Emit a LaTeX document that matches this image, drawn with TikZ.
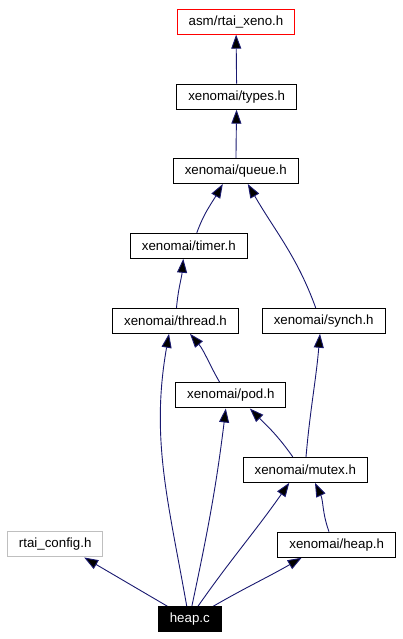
\documentclass[tikz,border=0pt]{standalone}
\usepackage{fontspec}
\setmainfont{Liberation Sans}
\usetikzlibrary{arrows.meta}

\definecolor{edgeblue}{HTML}{191970}
\definecolor{extgray}{HTML}{BFBFBF}
\pgfdeclarelayer{background}
\pgfsetlayers{background,main}

\begin{document}
\begin{tikzpicture}[
  x=1pt, y=1pt,
  >={Triangle[length=14pt,width=10pt]},
  file/.style={draw=black, line width=1pt, fill=white, minimum height=25pt,
    inner xsep=11.5pt, inner ysep=0pt, font=\fontsize{13.3}{16}\selectfont},
  dep/.style={->, draw=edgeblue, line width=0.9pt}
]
  \useasboundingbox (0,0) rectangle (402,639);

  \node[file, draw=red] (asm) at (236,617.3) {asm/rtai\_xeno.h};
  \node[file] (types) at (236.7,542.3) {xenomai/types.h};
  \node[file] (queue) at (235.8,468) {xenomai/queue.h};
  \node[file] (timer) at (188.8,393.2) {xenomai/timer.h};
  \node[file] (thread) at (175.5,318.2) {xenomai/thread.h};
  \node[file] (synch) at (323.7,318.2) {xenomai/synch.h};
  \node[file] (pod) at (230.8,243.5) {xenomai/pod.h};
  \node[file] (mutex) at (305.3,169.2) {xenomai/mutex.h};
  \node[file, draw=extgray] (config) at (55.2,94.5) {rtai\_config.h};
  \node[file] (heaph) at (336.7,94.3) {xenomai/heap.h};
  \node[file, fill=black, text=white] (heapc) at (189.8,19.5) {heap.c};

  \begin{pgfonlayer}{background}
  \path[dep]
    (types) edge (asm)
    (queue) edge (types)
    ([xshift=8pt]timer.north) edge[out=70, in=-120] ([xshift=-13pt]queue.south)
    ([xshift=-8pt]synch.north) edge[out=110, in=-60] ([xshift=12pt]queue.south)
    ([xshift=1pt]thread.north) edge[out=85, in=-95] ([xshift=-5.5pt]timer.south)
    ([xshift=-11pt]pod.north) edge[out=120, in=-50] ([xshift=14.5pt]thread.south)
    ([xshift=-12.6pt]mutex.north) edge[out=125, in=-45] ([xshift=19pt]pod.south)
    ([xshift=0.7pt]mutex.north) edge[out=85, in=-95] ([xshift=-3.7pt]synch.south)
    ([xshift=-7.7pt]heaph.north) edge[out=110, in=-65] ([xshift=9.7pt]mutex.south)
    ([xshift=-22pt]heapc.north) edge ([xshift=29pt]config.south)
    ([xshift=-3pt]heapc.north) edge[out=100, in=-100] ([xshift=-6.5pt]thread.south)
    ([xshift=2pt]heapc.north) edge[out=78, in=-97] ([xshift=-5pt]pod.south)
    ([xshift=8pt]heapc.north) edge[out=55, in=-125] ([xshift=-16pt]mutex.south)
    ([xshift=23pt]heapc.north) edge[out=30, in=-150] ([xshift=-35pt]heaph.south);
  \end{pgfonlayer}
\end{tikzpicture}
\end{document}
